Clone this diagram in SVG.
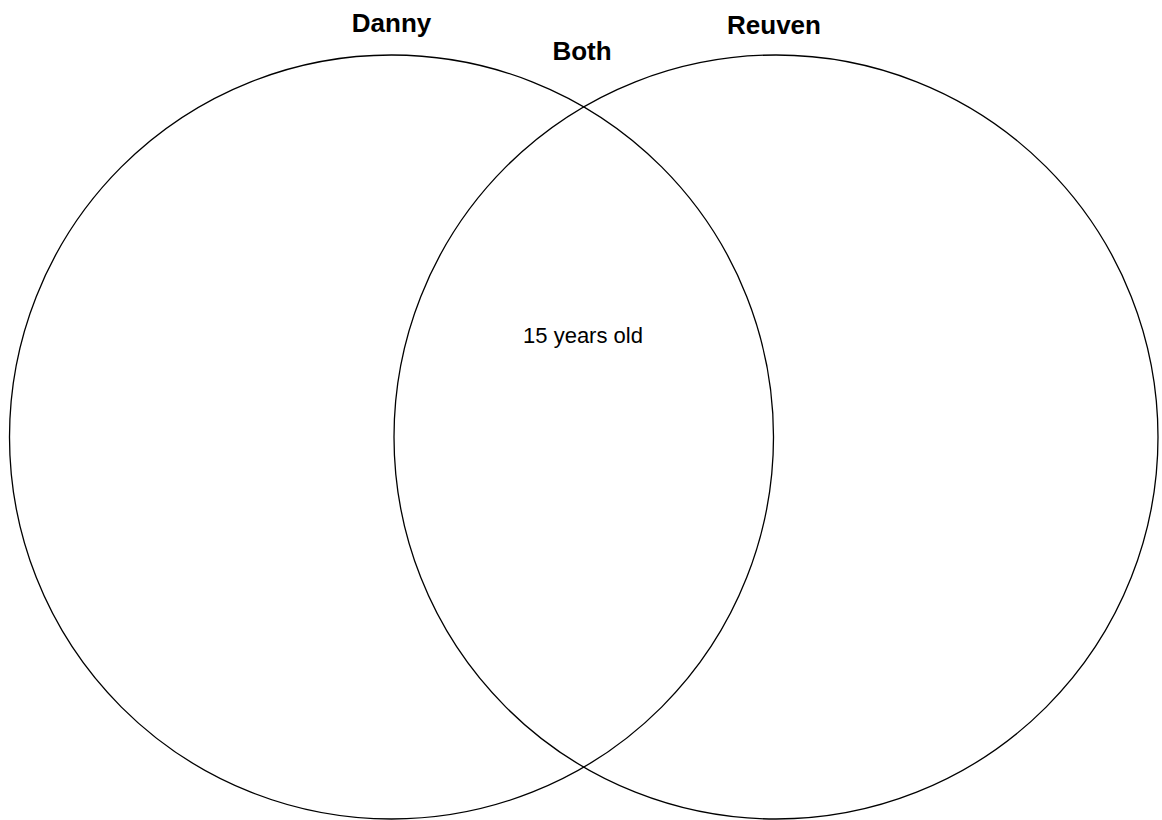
<svg xmlns="http://www.w3.org/2000/svg" width="1162" height="820" viewBox="0 0 1162 820">
<style>
.c{fill:none;stroke:#000;stroke-width:1.3}
.h{font-family:"Liberation Sans",Arial,sans-serif;font-weight:bold;font-size:26px;fill:#000;text-anchor:middle}
.t{font-family:"Liberation Sans",Arial,sans-serif;font-size:22px;fill:#000;text-anchor:middle}
</style>
<rect width="1162" height="820" fill="#fff"/>
<g id="danny">
<circle class="c" cx="391.5" cy="437" r="382"/>
<text class="h" x="391.5" y="32">Danny</text>
</g>
<g id="reuven">
<circle class="c" cx="776" cy="437" r="382"/>
<text class="h" x="774" y="34">Reuven</text>
</g>
<g id="both">
<text class="h" x="582" y="60">Both</text>
<text class="t" x="583" y="343">15 years old</text>
</g>
<g id="connectors"></g>
</svg>
